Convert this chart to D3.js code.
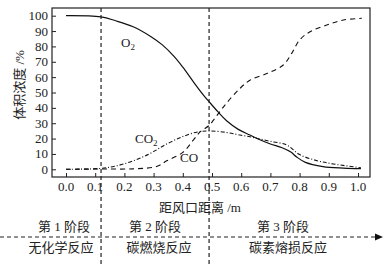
<!DOCTYPE html>
<html>
<head>
<meta charset="utf-8">
<script src="https://cdn.jsdelivr.net/npm/d3@7"></script>
<style>
  body { margin: 0; background: #fff; }
  text { font-family: "Liberation Serif", "Times New Roman", "Noto Sans CJK SC", serif; fill: #222; }
</style>
</head>
<body>
<div id="chart"></div>
<script>
// distance from tuyere (m) and gas volume fraction (%)
const o2X = [0, 0.12, 0.17, 0.23, 0.29, 0.33, 0.37, 0.40, 0.44, 0.47, 0.49, 0.52, 0.55, 0.59, 0.63, 0.66, 0.70, 0.74, 0.77, 0.79, 0.82, 0.88, 0.95, 1.01];
const o2Y = [100, 99.2, 96.7, 92.8, 86.5, 81, 73.5, 66.5, 56, 48.5, 44, 37.5, 31.6, 26, 22.3, 19.6, 16.5, 14, 11.2, 8, 4.5, 1.8, 0.8, 0.4];

const co2X = [0, 0.12, 0.17, 0.23, 0.29, 0.345, 0.40, 0.45, 0.49, 0.55, 0.59, 0.63, 0.66, 0.70, 0.756, 0.80, 0.86, 0.915, 1.01];
const co2Y = [0, 0.6, 2.1, 5.5, 10.5, 16.5, 21.3, 24.3, 25, 24, 22.5, 21.2, 19.9, 18.2, 15.8, 9.6, 5.6, 3.5, 1.0];

const coX = [0, 0.12, 0.23, 0.31, 0.345, 0.40, 0.436, 0.46, 0.49, 0.505, 0.545, 0.596, 0.63, 0.69, 0.744, 0.773, 0.80, 0.836, 0.893, 0.95, 1.013];
const coY = [0, 0.2, 0.3, 1.8, 5.5, 11, 19, 24.5, 28.5, 32, 42, 52.7, 58, 62.5, 67.9, 75.5, 84.2, 89.6, 93.9, 97.2, 98.3];

const xTicks = [0, 0.1, 0.2, 0.3, 0.4, 0.5, 0.6, 0.7, 0.8, 0.9, 1.0];
const yTicks = [0, 10, 20, 30, 40, 50, 60, 70, 80, 90, 100];
const stageBounds = [0.12, 0.49];
const stageNames = ["第 1 阶段", "第 2 阶段", "第 3 阶段"];
const reactionNames = ["无化学反应", "碳燃烧反应", "碳素熔损反应"];

const W = 391, H = 266;
const frame = { left: 52, right: 370, top: 8, bottom: 177 };

const svg = d3.select("#chart").append("svg")
    .attr("width", W).attr("height", H);

const x = d3.scaleLinear().domain([0, 1]).range([66, 358]);
const y = d3.scaleLinear().domain([0, 100]).range([169.3, 15.7]);

// frame
svg.append("rect")
    .attr("x", frame.left).attr("y", frame.top)
    .attr("width", frame.right - frame.left).attr("height", frame.bottom - frame.top)
    .attr("fill", "none").attr("stroke", "#222").attr("stroke-width", 1.2);

// y axis ticks (inward)
const yAxis = svg.append("g")
    .attr("transform", `translate(${frame.left},0)`)
    .call(d3.axisRight(y).tickValues(yTicks).tickSize(4).tickFormat(""));
yAxis.select(".domain").remove();
yAxis.selectAll("line").attr("stroke", "#222");
svg.append("g").selectAll("text")
    .data(yTicks).join("text")
    .attr("x", 48).attr("y", d => y(d))
    .attr("dy", "0.35em")
    .attr("text-anchor", "end")
    .attr("font-size", 13)
    .text(d => d);

// x axis ticks (inward)
const xAxis = svg.append("g")
    .attr("transform", `translate(0,${frame.bottom})`)
    .call(d3.axisTop(x).tickValues(xTicks).tickSize(4).tickFormat(""));
xAxis.select(".domain").remove();
xAxis.selectAll("line").attr("stroke", "#222");
svg.append("g").selectAll("text")
    .data(xTicks).join("text")
    .attr("x", d => x(d)).attr("y", 191)
    .attr("text-anchor", "middle")
    .attr("font-size", 13)
    .text(d => d.toFixed(1));

// axis titles
svg.append("text")
    .attr("x", 200).attr("y", 212)
    .attr("text-anchor", "middle").attr("font-size", 13)
    .text("距风口距离 /m");
svg.append("text")
    .attr("transform", "translate(24,85) rotate(-90)")
    .attr("text-anchor", "middle").attr("font-size", 13)
    .text("体积浓度 /%");

// curves
const line = d3.line()
    .x(d => x(d[0]))
    .y(d => y(d[1]))
    .curve(d3.curveCatmullRom.alpha(0.5));

svg.append("path")
    .datum(d3.zip(o2X, o2Y))
    .attr("fill", "none").attr("stroke", "#111").attr("stroke-width", 1.2)
    .attr("d", line);
svg.append("path")
    .datum(d3.zip(co2X, co2Y))
    .attr("fill", "none").attr("stroke", "#111").attr("stroke-width", 1.1)
    .attr("stroke-dasharray", "4,2,1,2")
    .attr("d", line);
svg.append("path")
    .datum(d3.zip(coX, coY))
    .attr("fill", "none").attr("stroke", "#111").attr("stroke-width", 1.1)
    .attr("stroke-dasharray", "5,4")
    .attr("d", line);

// curve labels
function gasLabel(px, py, base, sub) {
    const t = svg.append("text").attr("x", px).attr("y", py).attr("font-size", 13);
    t.append("tspan").text(base);
    if (sub) t.append("tspan").attr("font-size", 9).attr("dy", 3).text(sub);
}
gasLabel(121, 47, "O", "2");
gasLabel(135, 143, "CO", "2");
gasLabel(180, 162, "CO", null);

// stage boundaries
svg.append("g").selectAll("line")
    .data(stageBounds).join("line")
    .attr("x1", d => x(d)).attr("x2", d => x(d))
    .attr("y1", frame.top).attr("y2", H)
    .attr("stroke", "#222").attr("stroke-width", 1.2)
    .attr("stroke-dasharray", "4,3");

// horizontal dashed arrow
svg.append("line")
    .attr("x1", 0).attr("x2", 377)
    .attr("y1", 237).attr("y2", 237)
    .attr("stroke", "#222").attr("stroke-width", 1.2)
    .attr("stroke-dasharray", "4,3");
svg.append("path")
    .attr("d", "M375,233.5 L383,237 L375,240.5 Z")
    .attr("fill", "#111");

// stage texts
const stageCenters = [64, 155, 283];
const reactCenters = [61, 159, 288];
stageNames.forEach((s, i) => {
    svg.append("text")
        .attr("x", stageCenters[i]).attr("y", 231)
        .attr("text-anchor", "middle").attr("font-size", 13)
        .text(s);
    svg.append("text")
        .attr("x", reactCenters[i]).attr("y", 252)
        .attr("text-anchor", "middle").attr("font-size", 13)
        .text(reactionNames[i]);
});
</script>
</body>
</html>
